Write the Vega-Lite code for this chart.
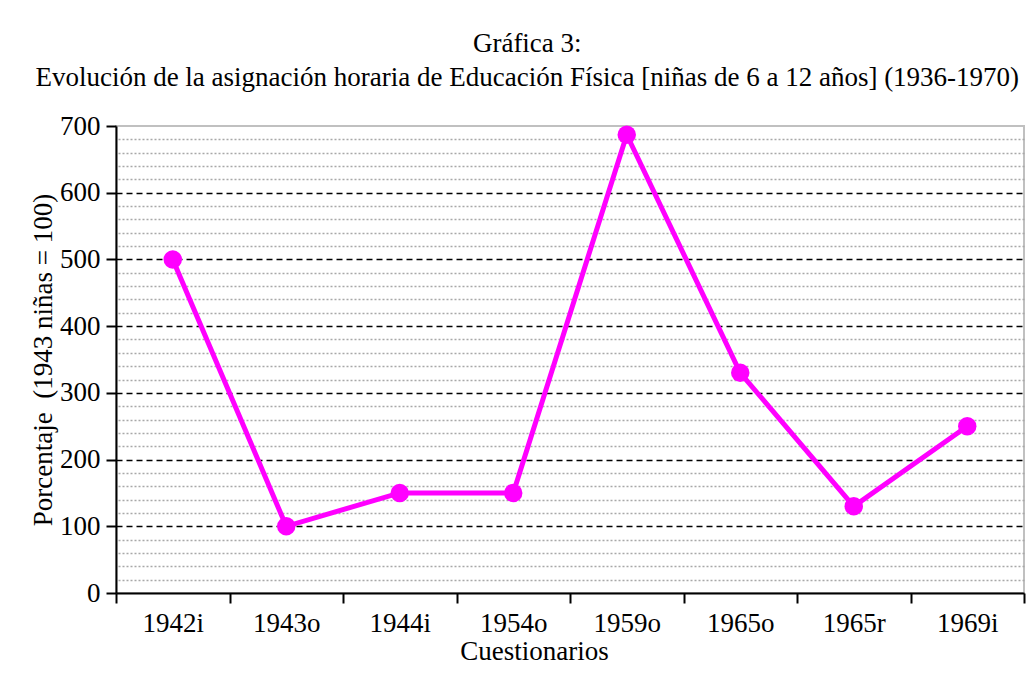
{
  "$schema": "https://vega.github.io/schema/vega-lite/v6.json",
  "autosize": "none",
  "width": 908,
  "height": 467,
  "padding": {"left": 116, "top": 126, "right": 9, "bottom": 82},
  "background": "white",
  "title": {
    "text": ["Gráfica 3:", "Evolución de la asignación horaria de Educación Física [niñas de 6 a 12 años] (1936-1970)"],
    "font": "Liberation Serif",
    "fontSize": 27,
    "fontWeight": "normal",
    "color": "black",
    "anchor": "middle",
    "frame": "bounds",
    "lineHeight": 34,
    "offset": 20
  },
  "data": {
    "values": [
      {"q": "1942i", "v": 500},
      {"q": "1943o", "v": 100},
      {"q": "1944i", "v": 150},
      {"q": "1954o", "v": 150},
      {"q": "1959o", "v": 687},
      {"q": "1965o", "v": 330},
      {"q": "1965r", "v": 130},
      {"q": "1969i", "v": 250}
    ]
  },
  "encoding": {
    "x": {
      "field": "q",
      "type": "nominal",
      "sort": null,
      "scale": {"type": "band", "paddingInner": 0, "paddingOuter": 0},
      "axis": {
        "title": "Cuestionarios",
        "titleFont": "Liberation Serif",
        "titleFontSize": 27,
        "titleFontWeight": "normal",
        "titleColor": "black",
        "titlePadding": 2,
        "titleX": 418,
        "labelFont": "Liberation Serif",
        "labelFontSize": 27,
        "labelColor": "black",
        "labelAngle": 0,
        "labelPadding": 7,
        "tickBand": "extent",
        "tickSize": 10,
        "tickWidth": 2,
        "tickColor": "black",
        "domainColor": "black",
        "domainWidth": 2,
        "grid": false
      }
    },
    "y": {
      "field": "v",
      "type": "quantitative",
      "scale": {"domain": [0, 700], "nice": false, "zero": true}
    }
  },
  "layer": [
    {
      "mark": {"type": "line", "color": "#ff00ff", "strokeWidth": 5},
      "encoding": {
        "y": {
          "field": "v",
          "type": "quantitative",
          "axis": {
            "orient": "right",
            "values": [20, 40, 60, 80, 120, 140, 160, 180, 220, 240, 260, 280, 320, 340, 360, 380, 420, 440, 460, 480, 520, 540, 560, 580, 620, 640, 660, 680],
            "labels": false,
            "ticks": false,
            "domain": false,
            "title": null,
            "grid": true,
            "gridColor": "#a8a8a8",
            "gridDash": [2, 2],
            "gridWidth": 1.5
          }
        }
      }
    },
    {
      "mark": {"type": "point", "filled": true, "color": "#ff00ff", "opacity": 1, "size": 340},
      "encoding": {
        "y": {
          "field": "v",
          "type": "quantitative",
          "axis": {
            "orient": "left",
            "values": [0, 100, 200, 300, 400, 500, 600, 700],
            "title": "Porcentaje\u00a0\u00a0(1943 niñas = 100)",
            "titleFont": "Liberation Serif",
            "titleFontSize": 27,
            "titleFontWeight": "normal",
            "titleColor": "black",
            "titlePadding": 2,
            "labelFont": "Liberation Serif",
            "labelFontSize": 27,
            "labelColor": "black",
            "labelPadding": 6,
            "tickSize": 10,
            "tickWidth": 2,
            "tickColor": "black",
            "domainColor": "black",
            "domainWidth": 2,
            "grid": true,
            "gridColor": "black",
            "gridDash": [6, 4],
            "gridWidth": 1.3,
            "gridOpacity": {"condition": {"test": "datum.value === 0 || datum.value === 700", "value": 0}, "value": 1}
          }
        }
      }
    }
  ],
  "resolve": {"axis": {"y": "independent"}},
  "config": {
    "view": {"stroke": "#c0c0c0", "strokeWidth": 2}
  }
}
